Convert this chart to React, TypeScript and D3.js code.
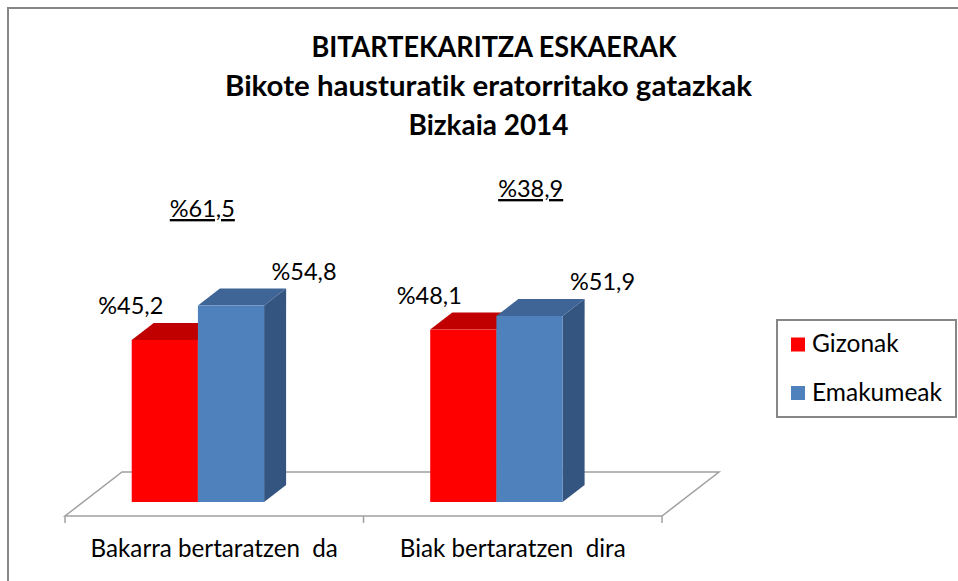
import React from "react";
import * as d3 from "d3";

const categories = ["Bakarra bertaratzen  da", "Biak bertaratzen  dira"];
const series = ["Gizonak", "Emakumeak"];
const gizonak = [45.2, 48.1];
const emakumeak = [54.8, 51.9];
const categoryShares = [61.5, 38.9];
const titleLines = [
  "BITARTEKARITZA ESKAERAK",
  "Bikote hausturatik eratorritako gatazkak",
  "Bizkaia 2014",
];

const W = 958;
const H = 581;
const FONT = "Lato, 'Open Sans', sans-serif";

const fmt = (v: number) => "%" + v.toFixed(1).replace(".", ",");

const frontColors = ["#FF0000", "#4F81BD"];
const topColors = ["#C00000", "#3E6596"];
const sideColors = ["#A00000", "#34557F"];

// floor geometry
const floorLeft = 65;
const floorRight = 662;
const floorFrontY = 516;
const floorDX = 57;
const floorDY = -44;
const barDX = 22;
const barDY = -17;
const baseY = 502;

// title layout
const titleWidths = [365, 527, 160];
const titleCenters = [494, 488.5, 488.5];
const titleBaselines = [57, 96, 134.5];

// label placement tweaks (annotation offsets, fraction of band)
const shareOffsets = [
  { dx: 0.46, y: 217 },
  { dx: 0.56, y: 197 },
];

const noLig: React.CSSProperties = { fontVariantLigatures: "none", whiteSpace: "pre" };

export default function App() {
  const x = d3.scaleBand<string>().domain(categories).range([floorLeft, floorRight]);
  const bw = x.bandwidth();
  const inner = d3
    .scaleBand<string>()
    .domain(series)
    .range([bw * 0.2235, bw * 0.667]);
  const y = d3.scaleLinear().domain([0, 60]).range([baseY, baseY - 3.585 * 60]);

  const values = [gizonak, emakumeak];

  const floorPts: [number, number][] = [
    [floorLeft, floorFrontY],
    [floorRight, floorFrontY],
    [floorRight + floorDX, floorFrontY + floorDY],
    [floorLeft + floorDX, floorFrontY + floorDY],
  ];
  const line = d3.line();

  const bars: React.ReactNode[] = [];
  const labels: React.ReactNode[] = [];
  categories.forEach((c, ci) => {
    series.forEach((s, si) => {
      const v = values[si][ci];
      const x0 = (x(c) as number) + (inner(s) as number);
      const x1 = x0 + inner.bandwidth();
      const yt = y(v);
      const yb = y(0);
      const top = line([
        [x0, yt],
        [x1, yt],
        [x1 + barDX, yt + barDY],
        [x0 + barDX, yt + barDY],
      ]) + "Z";
      const side = line([
        [x1, yt],
        [x1 + barDX, yt + barDY],
        [x1 + barDX, yb + barDY],
        [x1, yb],
      ]) + "Z";
      bars.push(
        <g key={`b-${ci}-${si}`}>
          <path d={side} fill={sideColors[si]} />
          <path d={top} fill={topColors[si]} />
          <rect x={x0} y={yt} width={x1 - x0} height={yb - yt} fill={frontColors[si]} />
        </g>
      );
      const cx = (x0 + x1) / 2 + (si === 0 ? -34 : 73);
      labels.push(
        <text
          key={`l-${ci}-${si}`}
          x={cx}
          y={yt - 26}
          textAnchor="middle"
          fontFamily={FONT}
          fontSize={23.5}
          fill="#000"
        >
          {fmt(v)}
        </text>
      );
    });
  });

  return (
    <svg width={W} height={H} style={{ position: "absolute", left: 0, top: 0 }}>
      <rect x={0} y={0} width={W} height={H} fill="#fff" />
      <rect x={8} y={8} width={980} height={620} fill="#fff" stroke="#878787" strokeWidth={2} />
      {titleLines.map((t, i) => (
        <text
          key={i}
          x={titleCenters[i]}
          y={titleBaselines[i]}
          textAnchor="middle"
          fontFamily={FONT}
          fontWeight="bold"
          fontSize={28}
          textLength={titleWidths[i]}
          lengthAdjust="spacingAndGlyphs"
          fill="#000"
          style={noLig}
        >
          {t}
        </text>
      ))}
      <path d={line(floorPts) + "Z"} fill="#fff" stroke="#A0A0A0" strokeWidth={1.5} />
      {x.domain().concat(["end"]).map((c, i) => {
        const tx = i < categories.length ? (x(c) as number) : floorRight;
        return (
          <line
            key={`t-${i}`}
            x1={tx}
            x2={tx}
            y1={floorFrontY}
            y2={floorFrontY + 7}
            stroke="#A0A0A0"
            strokeWidth={1.5}
          />
        );
      })}
      {bars}
      {labels}
      {categories.map((c, i) => (
        <text
          key={`c-${i}`}
          x={(x(c) as number) + bw / 2}
          y={557}
          textAnchor="middle"
          fontFamily={FONT}
          fontSize={24.2}
          fill="#000"
          style={noLig}
        >
          {c}
        </text>
      ))}
      {categoryShares.map((v, i) => (
        <text
          key={`s-${i}`}
          x={(x(categories[i]) as number) + bw * shareOffsets[i].dx}
          y={shareOffsets[i].y}
          textAnchor="middle"
          fontFamily={FONT}
          fontSize={23.5}
          textDecoration="underline"
          fill="#000"
        >
          {fmt(v)}
        </text>
      ))}
      <g>
        <rect x={777} y={320} width={179} height={97} fill="#fff" stroke="#878787" strokeWidth={2} />
        {series.map((s, i) => (
          <g key={`lg-${i}`}>
            <rect x={791} y={337.5 + i * 48.5} width={14} height={14} fill={frontColors[i]} />
            <text x={812} y={352 + i * 48.5} fontFamily={FONT} fontSize={24.5} fill="#000">
              {s}
            </text>
          </g>
        ))}
      </g>
    </svg>
  );
}
